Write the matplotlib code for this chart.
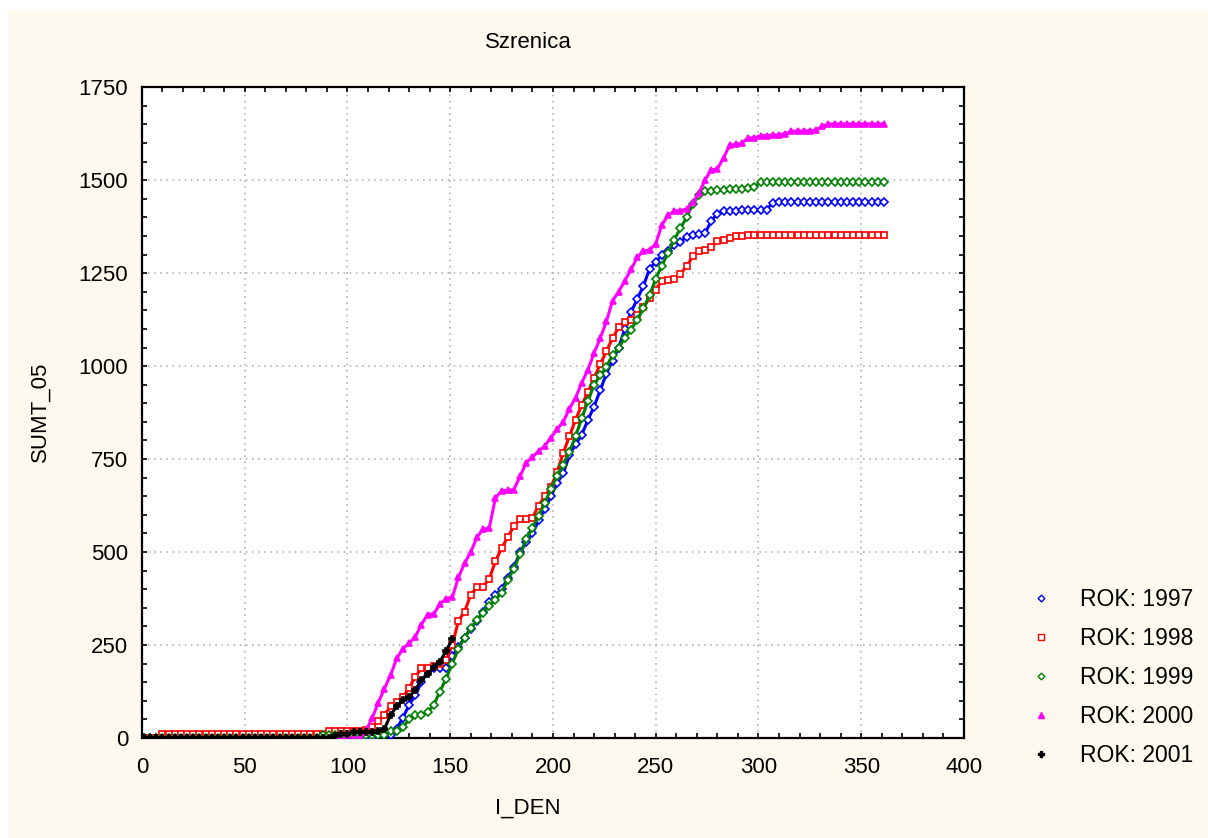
import matplotlib
matplotlib.use('Agg')
import matplotlib.pyplot as plt
from matplotlib.lines import Line2D
from matplotlib.patches import Rectangle
from matplotlib.ticker import MultipleLocator

plt.rcParams['font.family'] = ['Liberation Sans', 'DejaVu Sans']

# day of year (I_DEN), every third day
days = list(range(1, 362, 3))

# cumulative temperature sum above 5 deg C (SUMT_05), Szrenica station
sumt_1997 = [0] * 38 + [
    5, 9, 9, 25, 55, 89, 115, 150, 180, 187,
    187, 188, 220, 245, 270, 294, 315, 340, 365, 385,
    400, 430, 460, 499, 526, 550, 585, 615, 650, 685,
    712, 760, 790, 815, 855, 891, 935, 980, 1015, 1050,
    1100, 1145, 1180, 1215, 1262, 1280, 1298, 1310, 1325, 1335,
    1346, 1352, 1356, 1357, 1390, 1410, 1417, 1418, 1418, 1419,
    1419, 1420, 1420, 1421, 1439] + [1440] * 18

sumt_1998 = [0] * 3 + [10] * 27 + [20] * 6 + [
    22, 30, 45, 62, 85, 96, 110, 134, 165, 187,
    188, 194, 200, 210, 250, 315, 340, 385, 405, 407,
    428, 475, 510, 540, 570, 588, 590, 592, 625, 650,
    675, 715, 767, 811, 856, 895, 930, 968, 1005, 1040,
    1075, 1105, 1118, 1123, 1138, 1158, 1182, 1205, 1230, 1231,
    1233, 1248, 1268, 1295, 1310, 1311, 1320, 1337, 1338, 1345,
    1350, 1351] + [1353] * 23

sumt_1999 = [0] * 29 + [8] * 11 + [
    20, 20, 30, 50, 62, 62, 70, 89, 125, 160,
    200, 240, 270, 295, 318, 335, 355, 372, 390, 425,
    455, 495, 535, 565, 598, 632, 670, 705, 735, 770,
    811, 860, 905, 950, 975, 998, 1030, 1050, 1075, 1098,
    1125, 1155, 1190, 1235, 1270, 1305, 1340, 1370, 1400, 1435,
    1460, 1472, 1472, 1473, 1474, 1475, 1476, 1477, 1480, 1481,
    1495] + [1496] * 20

sumt_2000 = [0] * 36 + [
    20, 53, 95, 133, 170, 214, 240, 255, 272, 305,
    332, 334, 360, 375, 378, 432, 470, 500, 540, 561,
    565, 645, 665, 666, 668, 704, 740, 755, 772, 785,
    808, 830, 850, 885, 915, 955, 990, 1035, 1075, 1120,
    1176, 1200, 1230, 1260, 1292, 1310, 1312, 1329, 1380, 1405,
    1417, 1418, 1422, 1440, 1465, 1500, 1528, 1530, 1560, 1594,
    1596, 1600, 1613, 1614, 1619, 1620, 1621, 1622, 1625, 1631,
    1632, 1632, 1633, 1634, 1645] + [1651] * 10

sumt_2001 = [0] * 31 + [
    5, 10, 12, 15, 15, 15, 15, 18, 25, 62,
    85, 102, 110, 130, 155, 172, 190, 205, 235, 265]

labels = ['ROK: 1997', 'ROK: 1998', 'ROK: 1999', 'ROK: 2000', 'ROK: 2001']
values = [sumt_1997, sumt_1998, sumt_1999, sumt_2000, sumt_2001]

styles = [
    dict(color='#0000ff', marker='D', ms=4.2, mfc='white'),
    dict(color='#ff0000', marker='s', ms=5.0, mfc='white'),
    dict(color='#008000', marker='D', ms=4.2, mfc='white'),
    dict(color='#ff00ff', marker='^', ms=5.0, mfc='#ff00ff'),
    dict(color='#000000', marker='P', ms=4.5, mfc='#000000'),
]

fig = plt.figure(figsize=(12.08, 8.38), dpi=100, facecolor='white')
fig.patches.append(Rectangle((8 / 1208, 0), 1, 1 - 10 / 838, transform=fig.transFigure,
                             facecolor='#fdf9ee', edgecolor='none', zorder=-10))

ax = fig.add_axes([0.1175, 0.1193, 0.6805, 0.7767])
ax.set_facecolor('white')

handles = []
for lab, vals, st in zip(labels, values, styles):
    ax.plot(days[:len(vals)], vals, color=st['color'], lw=2.2, marker=st['marker'],
            ms=st['ms'], mfc=st['mfc'], mec=st['color'], mew=1.2, zorder=3)
    handles.append(Line2D([], [], linestyle='', marker=st['marker'], ms=st['ms'] - 0.8,
                          mfc=st['mfc'], mec=st['color'], mew=1.0, label=lab))

ax.set_xlim(0, 400)
ax.set_ylim(0, 1750)
ax.xaxis.set_major_locator(MultipleLocator(50))
ax.xaxis.set_minor_locator(MultipleLocator(10))
ax.yaxis.set_major_locator(MultipleLocator(250))
ax.yaxis.set_minor_locator(MultipleLocator(50))
ax.tick_params(which='both', direction='in', top=True, right=True, width=1.2,
               length=3.5, labelsize=16, colors='black')
ax.tick_params(axis='x', pad=14)
ax.tick_params(axis='y', pad=10)
ax.grid(True, which='major', linestyle=(0, (1, 3)), color='#a8a8a8', lw=1.1, zorder=1)
for sp in ax.spines.values():
    sp.set_linewidth(1.6)
    sp.set_color('black')

fig.text(528 / 1208, 1 - 42 / 838, 'Szrenica', ha='center', va='center', fontsize=16)
fig.text(528 / 1208, 1 - 808 / 838, 'I_DEN', ha='center', va='center', fontsize=16)
fig.text(40 / 1208, 1 - 412 / 838, 'SUMT_05', ha='center', va='center', fontsize=16,
         rotation=90)

fig.legend(handles=handles, loc='upper left', bbox_to_anchor=(1032 / 1208, 1 - 588 / 838),
           frameon=False, fontsize=16.5, handlelength=0.8, handletextpad=1.3,
           labelspacing=0.7, borderpad=0, borderaxespad=0)

fig.savefig('out.png', dpi=100, facecolor=fig.get_facecolor())
